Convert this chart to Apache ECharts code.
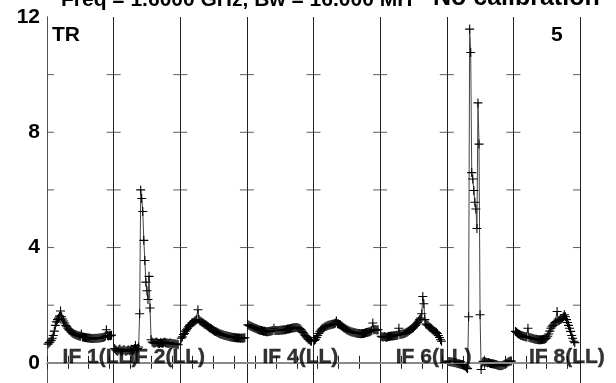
<!DOCTYPE html>
<html>
<head>
<meta charset="utf-8">
<script src="https://cdn.jsdelivr.net/npm/echarts@6/dist/echarts.min.js"></script>
<style>
html, body { margin: 0; padding: 0; background: #fff; }
#chart { width: 616px; height: 383px; }
</style>
</head>
<body>
<div id="chart"></div>
<script>
// panel titles along the bottom (3, 5, 7 not shown in the plot)
var titleMain = 'Freq = 1.6000 GHz, Bw = 16.000 MH';
var titleNote = 'No calibration';
var panelNames = ['IF 1(LL)', 'IF 2(LL)', '', 'IF 4(LL)', '', 'IF 6(LL)', '', 'IF 8(LL)'];
var yTicks = [2, 4, 6, 8, 10];
var yLabels = [0, 4, 8, 12];

// amplitude per channel 1..62 for each IF
var if1 = [0.65,0.7,0.72,0.78,0.85,0.95,1.1,1.3,1.42,1.5,
  1.55,1.62,1.8,1.6,1.52,1.45,1.38,1.3,1.25,1.2,
  1.15,1.12,1.08,1.05,1.02,1.0,0.98,0.97,0.95,0.94,
  0.93,0.92,1.0,0.9,0.9,0.88,0.88,0.87,0.86,0.86,
  0.85,0.85,0.84,0.84,0.84,0.85,0.84,0.85,0.85,0.86,
  0.86,0.87,0.88,0.88,0.9,0.92,1.15,0.95,0.93,0.95,
  0.94,0.96];
var if2 = [0.5,0.45,0.42,0.4,0.45,0.48,0.42,0.4,0.44,0.46,
  0.41,0.4,0.43,0.45,0.42,0.44,0.47,0.43,0.45,0.5,
  0.6,0.48,0.5,0.55,1.7,6.0,5.7,5.25,4.25,3.55,
  2.8,2.5,2.2,3.0,1.9,0.8,0.72,0.7,0.68,0.7,
  0.72,0.7,0.68,0.67,0.7,0.69,0.68,0.7,0.72,0.7,
  0.69,0.68,0.67,0.7,0.68,0.66,0.67,0.65,0.66,0.64,
  0.65,0.63];
var if3 = [0.85,0.9,0.98,1.02,1.1,1.15,1.2,1.25,1.3,1.33,
  1.38,1.4,1.42,1.45,1.48,1.5,1.84,1.5,1.45,1.43,
  1.4,1.38,1.35,1.33,1.3,1.28,1.25,1.22,1.2,1.18,
  1.15,1.13,1.1,1.09,1.07,1.05,1.03,1.01,1.0,0.98,
  0.97,0.96,0.95,0.94,0.93,0.92,0.91,0.9,0.9,0.89,
  0.88,0.88,0.87,0.87,0.86,0.86,0.86,0.85,0.86,0.85,
  0.86,0.87];
var if4 = [1.32,1.3,1.28,1.27,1.25,1.23,1.22,1.2,1.18,1.17,
  1.15,1.14,1.13,1.12,1.11,1.1,1.1,1.09,1.08,1.08,
  1.09,1.1,1.1,1.11,1.12,1.2,1.12,1.12,1.12,1.12,
  1.12,1.13,1.13,1.14,1.14,1.15,1.15,1.16,1.17,1.17,
  1.18,1.19,1.2,1.21,1.22,1.22,1.23,1.23,1.22,1.2,
  1.18,1.15,1.1,1.05,1.0,0.95,0.9,0.86,0.82,0.8,
  0.77,0.75];
var if5 = [0.78,0.82,0.88,0.95,1.02,1.08,1.13,1.17,1.2,1.22,
  1.25,1.27,1.28,1.3,1.3,1.32,1.33,1.34,1.35,1.36,
  1.38,1.45,1.36,1.35,1.33,1.3,1.28,1.25,1.22,1.2,
  1.17,1.15,1.13,1.11,1.1,1.08,1.07,1.06,1.05,1.04,
  1.03,1.03,1.02,1.02,1.01,1.01,1.02,1.02,1.03,1.04,
  1.05,1.06,1.07,1.08,1.1,1.12,1.38,1.15,1.16,1.15,
  1.14,1.15];
var if6 = [0.92,0.9,0.9,0.91,0.9,0.89,0.9,0.91,0.92,0.92,
  0.93,0.93,0.94,0.94,0.95,0.96,0.96,1.2,0.98,0.99,
  1.0,1.0,1.02,1.03,1.05,1.07,1.1,1.12,1.15,1.17,
  1.2,1.22,1.27,1.3,1.35,1.4,1.45,1.5,1.55,1.7,
  2.3,2.05,1.5,1.35,1.32,1.3,1.25,1.22,1.2,1.15,
  1.13,1.1,1.08,1.05,1.02,0.95,0.88,0.8,0.75,null,
  null,null];
var if7 = [null,0.05,0.04,0.04,0.03,0.02,0.01,0.0,0.0,-0.02,
  -0.03,-0.03,-0.05,-0.06,-0.07,-0.08,-0.1,-0.12,-0.17,-0.2,
  1.6,11.58,10.77,6.6,6.38,5.98,5.57,5.34,4.66,9.02,
  7.59,1.67,-0.23,0.0,0.05,0.04,0.03,0.02,0.0,0.01,
  -0.01,-0.02,-0.03,-0.03,-0.04,-0.05,-0.06,-0.07,-0.08,-0.09,
  -0.1,-0.1,-0.09,-0.08,-0.06,-0.04,-0.02,0.0,0.03,0.05,
  0.06,0.06];
var if8 = [null,1.09,1.06,1.03,1.0,0.98,0.96,0.95,0.93,0.92,
  0.91,0.9,0.9,1.2,0.88,0.87,0.86,0.85,0.84,0.83,
  0.82,0.82,0.81,0.8,0.8,0.8,0.8,0.81,0.82,0.82,
  0.84,0.86,0.92,1.0,1.1,1.2,1.25,1.3,1.35,1.4,
  1.42,1.78,1.45,1.47,1.5,1.52,1.55,1.6,1.67,1.6,
  1.5,1.4,1.3,1.2,1.09,0.95,0.85,0.75,0.7,null,
  null,null];

var panels = [if1, if2, if3, if4, if5, if6, if7, if8];
var chPerPanel = 64;
var labelCh = 15;
var font = 'Liberation Sans, Arial, Helvetica, sans-serif';
var plus = 'path://M4.4,0H5.6V10H4.4ZM0,4.4H10V5.6H0Z';

var series = [];
panels.forEach(function (vals, p) {
    var data = vals.map(function (v, i) {
        return [p * chPerPanel + i + 1, v];
    });
    series.push({
        type: 'line',
        data: data,
        symbol: plus,
        symbolSize: 9,
        connectNulls: false,
        lineStyle: { color: '#444', width: 1 },
        itemStyle: { color: '#000', borderWidth: 0 },
        emphasis: { disabled: true },
        z: 3
    });
});

// zero line
series[0].markLine = {
    silent: true,
    symbol: 'none',
    label: { show: false },
    lineStyle: { color: '#8a8a8a', width: 2, type: 'solid' },
    data: [{ yAxis: 0 }]
};

// y ticks on every panel border: across inner borders, inward on the outer ones
var innerTicks = [], leftTicks = [], rightTicks = [];
yTicks.forEach(function (y) {
    leftTicks.push([0, y]);
    rightTicks.push([panels.length * chPerPanel, y]);
    for (var b = 1; b < panels.length; b++) innerTicks.push([b * chPerPanel, y]);
});
function tickSeries(data, size, offset) {
    return {
        type: 'scatter',
        data: data,
        symbol: 'rect',
        symbolSize: size,
        symbolOffset: offset,
        itemStyle: { color: '#333' },
        silent: true,
        z: 2
    };
}
series.push(tickSeries(innerTicks, [14, 1], [0, 0]));
series.push(tickSeries(leftTicks, [7, 1], [3.5, 0]));
series.push(tickSeries(rightTicks, [7, 1], [-3.5, 0]));

// panel names
series.push({
    type: 'scatter',
    data: panelNames.map(function (n, p) {
        return { value: [p * chPerPanel + labelCh, 0], name: n };
    }).filter(function (d) { return d.name; }),
    symbolSize: 0,
    silent: true,
    z: 6,
    label: {
        show: true,
        position: 'right',
        distance: 0,
        offset: [0, -6],
        formatter: '{b}',
        fontFamily: font,
        fontWeight: 'bold',
        fontSize: 21,
        color: '#000',
        textBorderColor: '#000',
        textBorderWidth: 0.4
    }
});

var bold = { fontFamily: font, fontWeight: 'bold', fontSize: 21, color: '#000' };
var option = {
    animation: false,
    backgroundColor: '#fff',
    title: [
        { text: titleMain, left: 61, top: -10, padding: 0,
          textStyle: { fontFamily: font, fontWeight: 'bold', fontSize: 21, color: '#000' } },
        { text: titleNote, left: 433, top: -14, padding: 0,
          textStyle: { fontFamily: font, fontWeight: 'bold', fontSize: 25, color: '#000' } },
        { text: 'TR', left: 52, top: 25, padding: 0, textStyle: bold },
        { text: '5', left: 551, top: 25, padding: 0, textStyle: bold }
    ],
    grid: { left: 47, top: 17, width: 533, height: 368 },
    xAxis: [
        {
            type: 'value', position: 'bottom', min: 0, max: 512, interval: 20,
            axisLine: { show: true, lineStyle: { color: '#333' } },
            axisTick: { show: true, inside: true, length: 7, lineStyle: { color: '#222' } },
            axisLabel: { show: false },
            splitLine: { show: false }
        },
        {
            type: 'value', position: 'top', min: 0, max: 512, interval: 20,
            axisLine: { show: true, lineStyle: { color: '#444' } },
            axisTick: { show: true, inside: true, length: 6, lineStyle: { color: '#222' } },
            axisLabel: { show: false },
            splitLine: { show: false }
        },
        {
            type: 'value', position: 'bottom', min: 0, max: 512, interval: 64,
            axisLine: { show: false },
            axisTick: { show: false },
            axisLabel: { show: false },
            splitLine: { show: true, lineStyle: { color: '#222', width: 1 } }
        }
    ],
    yAxis: [
        {
            type: 'value', position: 'left', min: -0.7, max: 12,
            axisLine: { show: true, lineStyle: { color: '#555' } },
            axisTick: { show: false },
            axisLabel: { show: true, customValues: yLabels, margin: 7, fontFamily: font, fontWeight: 'bold', fontSize: 21, color: '#000' },
            splitLine: { show: false }
        },
        {
            type: 'value', position: 'right', min: -0.7, max: 12,
            axisLine: { show: true, lineStyle: { color: '#555' } },
            axisTick: { show: false },
            axisLabel: { show: false },
            splitLine: { show: false }
        }
    ],
    series: series
};

var myChart = echarts.init(document.getElementById('chart'));
myChart.setOption(option);
</script>
</body>
</html>
